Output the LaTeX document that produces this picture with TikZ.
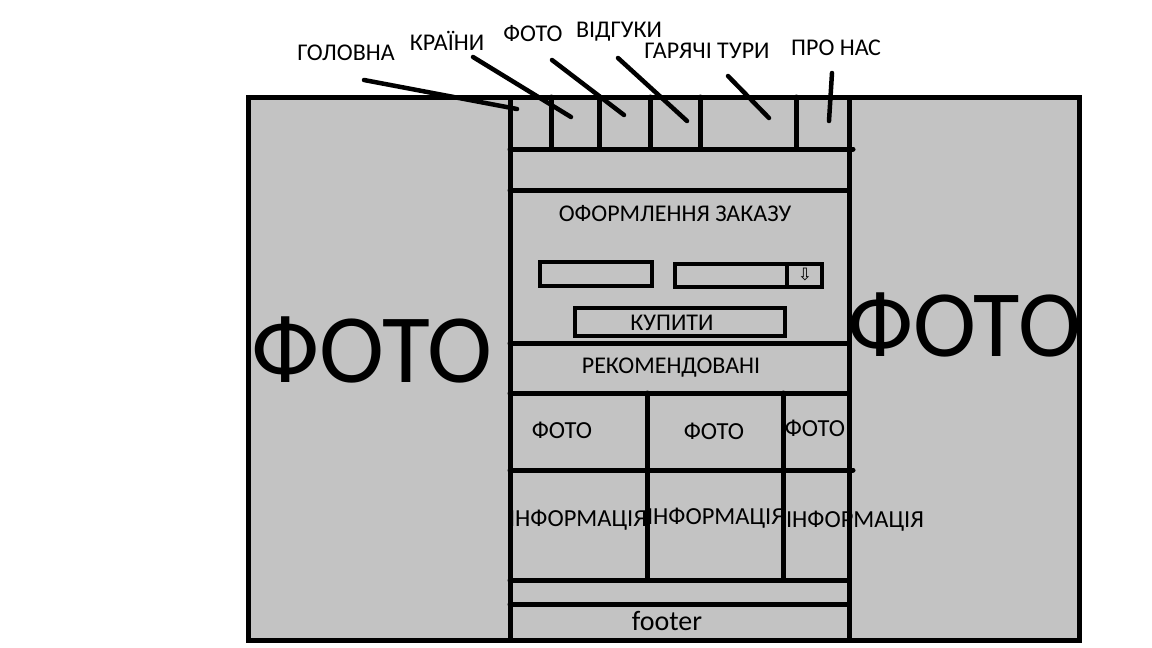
\documentclass[tikz,border=0pt]{standalone}
\usepackage{fontspec}
\setmainfont{Carlito}
\newfontfamily\symfont{DejaVu Sans}
\usetikzlibrary{positioning}
\definecolor{panel}{RGB}{195,195,195}

\begin{document}
\begin{tikzpicture}[x=1pt,y=-1pt,line width=5pt,line cap=round,
	every node/.style={font=\fontsize{24}{26}\selectfont,inner sep=0pt},
	big/.style={font=\fontsize{98}{100}\selectfont},
	card/.style={font=\fontsize{24.5}{26}\selectfont},
	field/.style={draw,line width=4pt,line cap=butt}]
	\useasboundingbox (0,0) rectangle (1152,648);
	% page background and centre column
	\filldraw[fill=panel,line cap=butt] (248,97) rectangle (1079,640);
	\draw[line cap=butt] (510,97) -- (510,641) (849,97) -- (849,641);
	\draw (510,149) -- (853,149);
	\draw (510,190) -- (849,190);
	\draw (510,343) -- (849,343);
	\draw (510,393) -- (849,393);
	\draw (510,470) -- (853,470);
	\draw (510,580) -- (849,580);
	\draw (510,604) -- (849,604);
	% menu cells
	\foreach \x in {551,599,650,700,796}
		\draw (\x,97) -- (\x,149);
	% recommended cards
	\draw (647,393) -- (647,580);
	\draw (783,393) -- (783,578);
	% order form
	\draw[field] (540,262) rectangle (652,286);
	\draw[field] (675,264) rectangle (822,287);
	\draw[field] (787,264) -- (787,287);
	\draw[field] (575,308) rectangle (785,336);
	\node[font=\symfont\fontsize{17}{17}\selectfont] (drop) at (805,275) {⇩};

	\node[big] (fotoL) at (372,350) {ФОТО};
	\node[big,font=\fontsize{95}{96}\selectfont] (fotoR) at (964,325) {ФОТО};

	% menu labels
	\node (glav) at (346,53) {ГОЛОВНА};
	\node (krai) at (447,41) {КРАЇНИ};
	\node (foto) at (533,34) {ФОТО};
	\node (vidg) at (619,32) {ВІДГУКИ};
	\node (tury) at (707,51) {ГАРЯЧІ ТУРИ};
	\node (pron) at (836,48) {ПРО НАС};
	\coordinate (glav-a) at (364,80);  \coordinate (glav-b) at (517,109);
	\coordinate (krai-a) at (473,57);  \coordinate (krai-b) at (571,117);
	\coordinate (foto-a) at (552,60);  \coordinate (foto-b) at (624,115);
	\coordinate (vidg-a) at (618,58);  \coordinate (vidg-b) at (687,121);
	\coordinate (tury-a) at (728,76);  \coordinate (tury-b) at (769,118);
	\coordinate (pron-a) at (832,73);  \coordinate (pron-b) at (829,121);
	\foreach \m in {glav,krai,foto,vidg,tury,pron}
		\draw[line width=4.5pt] (\m-a) -- (\m-b);

	\node (zakaz) at (675,214) {ОФОРМЛЕННЯ ЗАКАЗУ};
	\node (kup) at (672,323) {КУПИТИ};
	\node (rek) at (671,368) {РЕКОМЕНДОВАНІ};
	\node[card] (foto1) at (562,430) {ФОТО};
	\node[card] (foto2) at (714,431) {ФОТО};
	\node[card] (foto3) at (815,428) {ФОТО};
	\node[card] (info1) at (578,520) {ІНФОРМАЦІЯ};
	\node[card] (info2) at (716,518) {ІНФОРМАЦІЯ};
	\node[card] (info3) at (855,521) {ІНФОРМАЦІЯ};
	\node[font=\fontsize{28}{30}\selectfont] (foot) at (667,621) {footer};
\end{tikzpicture}
\end{document}
